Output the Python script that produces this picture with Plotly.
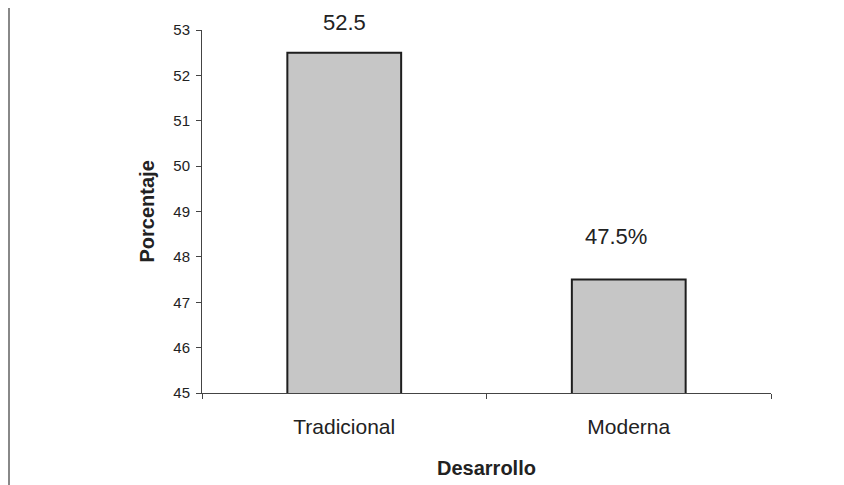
import plotly.graph_objects as go

categories = ["Tradicional", "Moderna"]
values = [52.5, 47.5]
value_labels = ["52.5", "47.5%"]
y_ticks = [45, 46, 47, 48, 49, 50, 51, 52, 53]

OFF = 8  # browser body margin
W, H = 844 - OFF, 485 - OFF
L, R, T, B = 202 - OFF, 73, 30 - OFF, 92
PW, PH = W - L - R, H - T - B

fig = go.Figure()
fig.add_trace(go.Bar(
    x=categories, y=values,
    marker=dict(color="#c6c6c6", line=dict(color="#1e1e1e", width=2)),
    width=0.4, showlegend=False,
))

# data labels (anchored to the bar tops)
label_yshift = [30, 43]
label_xshift = [0, -13]
for i, (c, v, t) in enumerate(zip(categories, values, value_labels)):
    fig.add_annotation(x=c, y=v, xref="x", yref="y", text=t,
                       xanchor="center", yanchor="middle",
                       xshift=label_xshift[i], yshift=label_yshift[i],
                       showarrow=False, font=dict(size=22, color="#222"))

fig.add_annotation(x=(146 - OFF - L) / PW, y=0.5, xref="paper", yref="paper",
                   xanchor="center", yanchor="middle",
                   text="<b>Porcentaje</b>", textangle=-90, showarrow=False,
                   font=dict(size=20, color="#222"))
fig.add_annotation(x=0.5, y=-(468 - 393) / PH, xref="paper", yref="paper",
                   xanchor="center", yanchor="middle",
                   text="<b>Desarrollo</b>", showarrow=False,
                   font=dict(size=20, color="#222"))

# left border line of the frame
bx = (1 - L) / PW
fig.add_shape(type="line", xref="paper", yref="paper",
              x0=bx, x1=bx, y0=-B / PH, y1=1 + T / PH,
              line=dict(color="#888", width=2))

fig.update_layout(
    width=W, height=H,
    margin=dict(l=L, r=R, t=T, b=B),
    paper_bgcolor="white", plot_bgcolor="white",
    font=dict(family="Liberation Sans, Arial, sans-serif", color="#222", size=13),
    bargap=0.6,
)
fig.update_xaxes(type="category", range=[-0.5, 1.5], showline=True, linecolor="#444",
                 linewidth=1, ticks="outside", tickson="boundaries", ticklen=5,
                 tickcolor="#444", tickfont=dict(size=21), ticklabelstandoff=15,
                 showgrid=False)
fig.update_yaxes(range=[45, 53], tickvals=y_ticks, showline=True, linecolor="#444",
                 linewidth=1, ticks="outside", ticklen=5, tickcolor="#444",
                 showgrid=False, zeroline=False, tickfont=dict(size=15),
                 ticklabelstandoff=3)

fig.write_html("out.html")
